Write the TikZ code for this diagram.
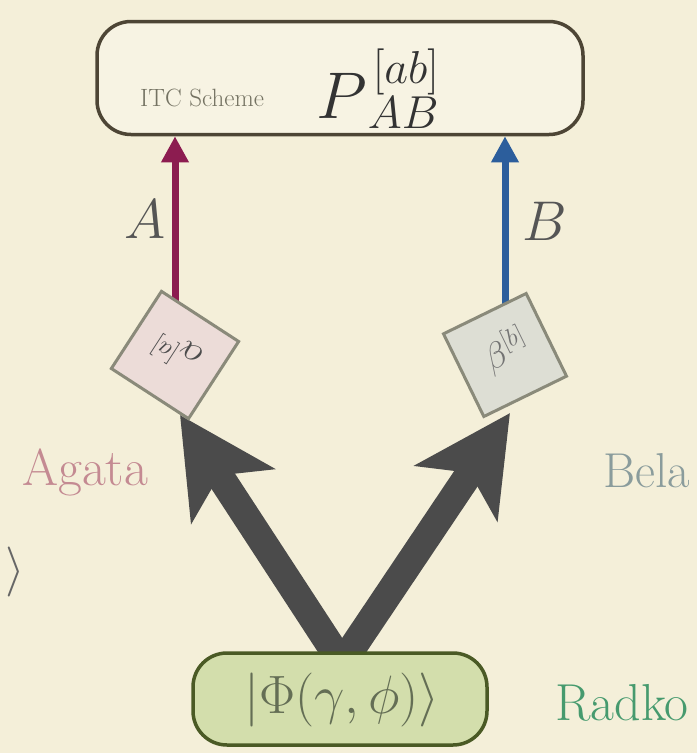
\RequirePackage{fix-cm}
\documentclass[tikz,border=0pt]{standalone}
\usetikzlibrary{arrows.meta,backgrounds,calc}
\definecolor{bgc}{HTML}{F4EFD9}
\definecolor{boxline}{HTML}{4D4535}
\definecolor{boxfill}{HTML}{F7F3E3}
\definecolor{magA}{HTML}{8C1C50}
\definecolor{bluB}{HTML}{2C5E9C}
\definecolor{bigarr}{HTML}{4B4B4B}
\definecolor{sqAfill}{HTML}{ECDCD8}
\definecolor{sqBfill}{HTML}{DDDED4}
\definecolor{sqline}{HTML}{8A8A7A}
\definecolor{greenfill}{HTML}{D3DEAC}
\definecolor{greenline}{HTML}{4A5A25}
\definecolor{agatac}{HTML}{C48A92}
\definecolor{belac}{HTML}{8A9C9C}
\definecolor{radkoc}{HTML}{469A6E}
\definecolor{labc}{HTML}{555555}
\tikzset{
  topbox/.style={draw=boxline, fill=boxfill, line width=3.5pt, rounded corners=34pt,
    minimum width=486pt, minimum height=113pt, inner sep=0pt},
  psibox/.style={draw=greenline, fill=greenfill, line width=3.5pt, rounded corners=34pt,
    minimum width=294pt, minimum height=92pt, inner sep=0pt},
  sqbox/.style={draw=sqline, line width=3pt, minimum size=92pt, inner sep=0pt},
  thinarrow/.style={line width=7pt, -{Triangle[length=26pt,width=26pt]}},
  bigarrow/.style={draw=bigarr, line width=28pt, -{Stealth[length=96pt,width=98pt,inset=24pt]}},
  bigtext/.style={font=\fontsize{52}{54}\selectfont, inner sep=0pt},
  lab/.style={text=labc, font=\fontsize{56}{58}\selectfont, inner sep=0pt}
}
\begin{document}
\begin{tikzpicture}[x=1pt,y=-1pt]
\useasboundingbox (0,0) rectangle (697,753);
% nodes
\node[topbox] (itc) at (340,78) {};
\node[inner sep=0pt, anchor=base west] (itctext) at (140,106)
  {\color[HTML]{747262}\fontsize{25}{25}\selectfont ITC Scheme};
\node[inner sep=0pt, anchor=base west, text=black!80] (pab) at (316,118)
  {\fontsize{66}{66}\selectfont $P^{\kern6pt[ab]}_{\kern10pt AB}$};
\node[sqbox, fill=sqAfill, rotate=-33] (sqA) at (175,355) {};
\node[rotate=147, inner sep=0pt, text=black!70] (alpha) at (176,352)
  {\fontsize{36}{36}\selectfont $\alpha^{[a]}$};
\node[sqbox, fill=sqBfill, rotate=26] (sqB) at (505,355) {};
\node[rotate=26, inner sep=0pt, text=black!55] (beta) at (506,350)
  {\fontsize{36}{36}\selectfont $\beta^{[b]}$};
\node[psibox] (psi) at (340,699) {};
\node[inner sep=0pt, text={rgb,255:red,100;green,110;blue,85}] (psitext) at (342,700)
  {\fontsize{54}{54}\selectfont $|\Phi(\gamma,\phi)\rangle$};
\node[lab, anchor=base] (labA) at (145,238) {$A$};
\node[lab, anchor=base] (labB) at (545,240) {$B$};
\node[bigtext, anchor=base west, text=agatac] (agata) at (22,485) {Agata};
\node[bigtext, anchor=base west, text=belac, font=\fontsize{49}{50}\selectfont] (bela) at (603,487) {Bela};
\node[bigtext, anchor=base west, text=radkoc] (radko) at (555,720) {Radko};
\node[inner sep=0pt, text=black!60] (frag) at (15,572) {\fontsize{50}{50}\selectfont $\rangle$};
\coordinate (vtx) at ($(psi.north)+(2,12)$);
\coordinate (tipA) at ($(sqA.center)+(5,60)$);
\coordinate (tipB) at ($(sqB.center)+(5,58)$);
% connectors
\begin{pgfonlayer}{background}
  \fill[bgc] (0,0) rectangle (697,753);
  \draw[bigarrow] (vtx) -- (tipA);
  \draw[bigarrow] (vtx) -- (tipB);
  \draw[thinarrow, draw=magA, fill=magA] (sqA.center) -- (sqA.center |- itc.south);
  \draw[thinarrow, draw=bluB, fill=bluB] (sqB.center) -- (sqB.center |- itc.south);
\end{pgfonlayer}
\end{tikzpicture}
\end{document}
